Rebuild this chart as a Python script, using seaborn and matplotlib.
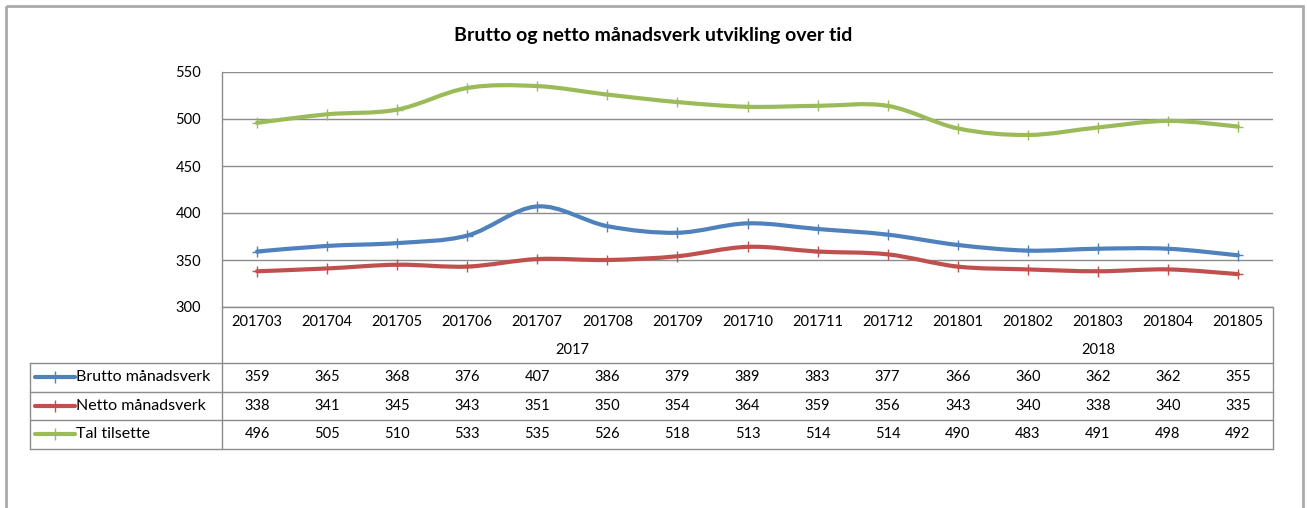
import numpy as np
import pandas as pd
import matplotlib
matplotlib.use("Agg")
import matplotlib.pyplot as plt
import seaborn as sns
from matplotlib.path import Path
from matplotlib.patches import PathPatch, Rectangle
from matplotlib.lines import Line2D
from matplotlib.transforms import blended_transform_factory

# data
months = ["201703", "201704", "201705", "201706", "201707", "201708", "201709", "201710",
          "201711", "201712", "201801", "201802", "201803", "201804", "201805"]
brutto = [359, 365, 368, 376, 407, 386, 379, 389, 383, 377, 366, 360, 362, 362, 355]
netto = [338, 341, 345, 343, 351, 350, 354, 364, 359, 356, 343, 340, 338, 340, 335]
tilsette = [496, 505, 510, 533, 535, 526, 518, 513, 514, 514, 490, 483, 491, 498, 492]
series_names = ["Brutto månadsverk", "Netto månadsverk", "Tal tilsette"]
colors = ["#4F81BD", "#C0504D", "#9BBB59"]

df = pd.DataFrame({"month": months, "Brutto månadsverk": brutto,
                   "Netto månadsverk": netto, "Tal tilsette": tilsette})
df["idx"] = np.arange(len(months))
df["year"] = df["month"].str[:4]
long = df.melt(id_vars=["month", "idx", "year"], value_vars=series_names,
               var_name="serie", value_name="verdi")

sns.set_theme(style="white")
plt.rcParams["font.family"] = ["Lato", "DejaVu Sans"]
grey = "#8C8C8C"

W, H = 1307, 508
fig = plt.figure(figsize=(W / 100, H / 100), dpi=100)

# pixel overlay for border, table and title
ov = fig.add_axes([0, 0, 1, 1])
ov.set_xlim(0, W)
ov.set_ylim(H, 0)
ov.axis("off")

L, R, T, B = 222, 1273, 72, 307
ax = fig.add_axes([L / W, 1 - B / H, (R - L) / W, (B - T) / H])
ax.patch.set_alpha(0)


def smooth_path(xs, ys):
    # bezier-glatting som i Excel
    pts = np.column_stack([xs, ys]).astype(float)
    n = len(pts)
    verts = [pts[0]]
    codes = [Path.MOVETO]
    for i in range(n - 1):
        p0 = pts[i - 1] if i > 0 else pts[i]
        p1 = pts[i]
        p2 = pts[i + 1]
        p3 = pts[i + 2] if i + 2 < n else pts[i + 1]
        c1 = p1 + (p2 - p0) / 6
        c2 = p2 - (p3 - p1) / 6
        verts += [c1, c2, p2]
        codes += [Path.CURVE4] * 3
    return Path(verts, codes)


for name, col in zip(series_names, colors):
    sub = long[long["serie"] == name]
    ax.add_patch(PathPatch(smooth_path(sub["idx"], sub["verdi"]), fill=False,
                           edgecolor=col, lw=3, capstyle="round", zorder=3))

sns.scatterplot(data=long, x="idx", y="verdi", hue="serie", palette=colors,
                marker="+", s=60, linewidth=1, legend=False, ax=ax, zorder=4)

ax.set_xlim(-0.5, len(months) - 0.5)
ax.set_ylim(300, 550)
ax.set_yticks([300, 350, 400, 450, 500, 550])
ax.set_xticks([])
ax.set_xlabel("")
ax.set_ylabel("")
ax.grid(axis="y", color=grey, lw=1)
ax.set_axisbelow(True)
for s in ["top", "right", "bottom"]:
    ax.spines[s].set_visible(False)
ax.spines["left"].set_color(grey)
ax.spines["left"].set_linewidth(1)
ax.tick_params(axis="y", length=0, pad=15, labelsize=10.5, labelcolor="black")

# outer border
ov.add_patch(Rectangle((6, 6), 1297, 600, fill=False, edgecolor="#AAAAAA", lw=2))

ov.text(653, 36, "Brutto og netto månadsverk utvikling over tid", ha="center",
        va="center", fontsize=14, fontweight="bold", color="black")

# data table
tr = blended_transform_factory(ax.transData, ov.transData)
lk = dict(color=grey, lw=1)
ov.plot([L, L], [B, 449], **lk)
ov.plot([R, R], [B, 449], **lk)
ov.plot([L, R], [B, B], **lk)
ov.plot([30, 30], [363, 449], **lk)
for y in [363, 392, 420, 449]:
    ov.plot([30, R], [y, y], **lk)

tk = dict(ha="center", va="center", fontsize=10.5, color="black")
for i, m in enumerate(months):
    ov.text(i, 322, m, transform=tr, **tk)
for yr, grp in df.groupby("year"):
    ov.text(grp["idx"].mean(), 350, yr, transform=tr, **tk)

rows_y = [377, 406, 434]
for name, col, y in zip(series_names, colors, rows_y):
    ov.add_line(Line2D([35, 75], [y, y], color=col, lw=3))
    ov.plot([55], [y], marker="+", color=col, ms=8, mew=1)
    ov.text(76, y, name, ha="left", va="center", fontsize=11.5, color="black")
    for i, v in enumerate(df[name]):
        ov.text(i, y, str(v), transform=tr, **tk)

fig.savefig("out.png", dpi=100)
